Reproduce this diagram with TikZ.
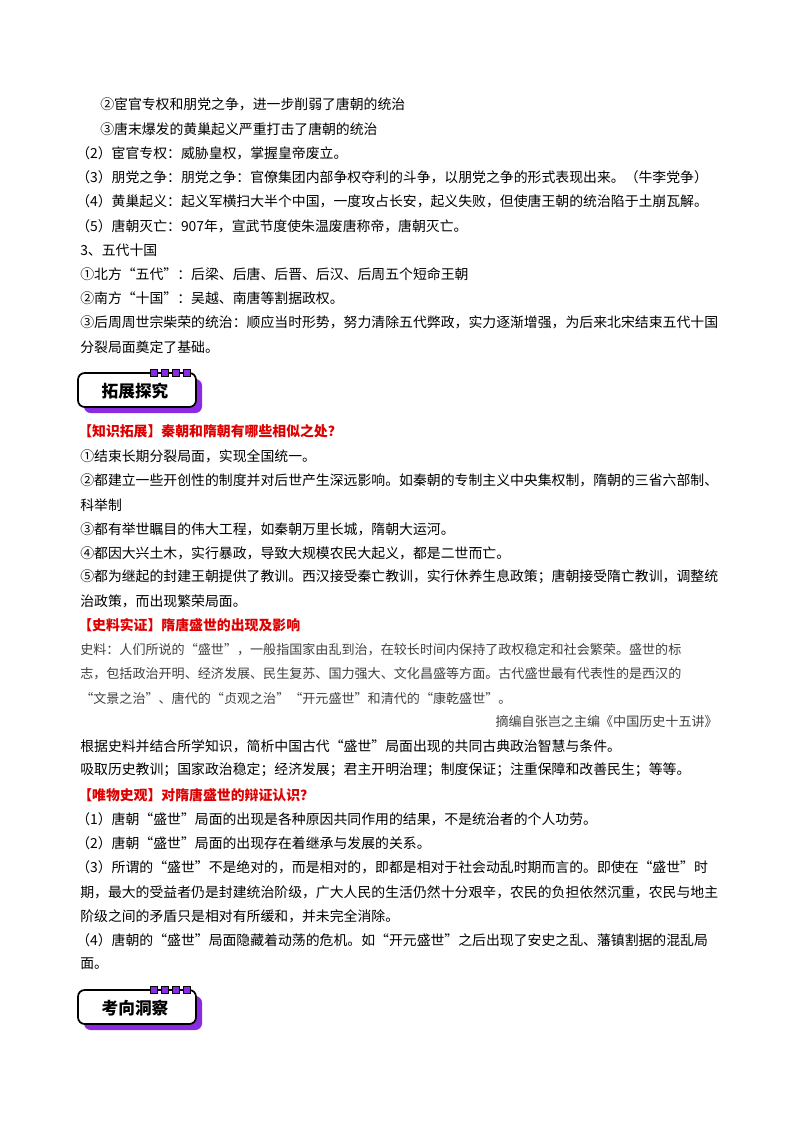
\documentclass[tikz,border=0pt]{standalone}
\usepackage{fontspec}
\newfontfamily\cjk{Noto Sans CJK SC}
\definecolor{hred}{RGB}{222,0,0}
\definecolor{purp}{RGB}{138,43,226}
\begin{document}
\begin{tikzpicture}[x=0.75pt,y=-0.75pt,
  t/.style={anchor=west,inner sep=0pt,font=\cjk\fontsize{10.4pt}{12pt}\selectfont},
  h/.style={t,text=hred,font=\cjk\bfseries\fontsize{10.4pt}{12pt}\selectfont},
  s/.style={t,text=black!75,font=\cjk\fontsize{9.8pt}{12pt}\selectfont},
  badge/.style={draw,line width=1.3pt,rounded corners=5pt,fill=white,minimum width=112\pgflinewidth,inner sep=0pt,font=\cjk\bfseries\fontsize{12pt}{14pt}\selectfont}]
\useasboundingbox (0,0) rectangle (800,1132);
\fill[white] (0,0) rectangle (800,1132);
\newcommand\Ln[4][t]{\node[#1] (#2) at #3 {#4};}
\newcommand\Badge[3]{%
  \fill[purp,rounded corners=5pt] (#1+6,#2+6) rectangle (#1+124,#2+40);
  \draw[line width=1.3pt,rounded corners=5pt,fill=white] (#1,#2) rectangle (#1+118,#2+34);
  \foreach \i in {0,1,2,3}{\filldraw[fill=purp,draw=black,line width=0.6pt] (#1+72+\i*11,#2-4) rectangle (#1+79+\i*11,#2+3);}
  \node[font=\cjk\bfseries\fontsize{12.5pt}{14pt}\selectfont] (#3) at (#1+57,#2+18) {#3};}
\Ln{a1}{(100,104)}{②宦官专权和朋党之争，进一步削弱了唐朝的统治}
\Ln{a2}{(100,129)}{③唐末爆发的黄巢起义严重打击了唐朝的统治}
\Ln{a3}{(76,153)}{（2）宦官专权：威胁皇权，掌握皇帝废立。}
\Ln{a4}{(76,177)}{（3）朋党之争：朋党之争：官僚集团内部争权夺利的斗争，以朋党之争的形式表现出来。（牛李党争）}
\Ln{a5}{(76,201)}{（4）黄巢起义：起义军横扫大半个中国，一度攻占长安，起义失败，但使唐王朝的统治陷于土崩瓦解。}
\Ln{a6}{(76,226)}{（5）唐朝灭亡：907年，宣武节度使朱温废唐称帝，唐朝灭亡。}
\Ln{a7}{(80,250)}{3、五代十国}
\Ln{a8}{(80,274)}{①北方“五代”：后梁、后唐、后晋、后汉、后周五个短命王朝}
\Ln{a9}{(80,298)}{②南方“十国”：吴越、南唐等割据政权。}
\Ln{a10}{(80,322)}{③后周周世宗柴荣的统治：顺应当时形势，努力清除五代弊政，实力逐渐增强，为后来北宋结束五代十国}
\Ln{a11}{(80,347)}{分裂局面奠定了基础。}
\Badge{78}{373}{拓展探究}
\Ln[h]{b1}{(78,431)}{【知识拓展】秦朝和隋朝有哪些相似之处？}
\Ln{b2}{(80,456)}{①结束长期分裂局面，实现全国统一。}
\Ln{b3}{(80,480)}{②都建立一些开创性的制度并对后世产生深远影响。如秦朝的专制主义中央集权制，隋朝的三省六部制、}
\Ln{b4}{(80,505)}{科举制}
\Ln{b5}{(80,529)}{③都有举世瞩目的伟大工程，如秦朝万里长城，隋朝大运河。}
\Ln{b6}{(80,553)}{④都因大兴土木，实行暴政，导致大规模农民大起义，都是二世而亡。}
\Ln{b7}{(80,577)}{⑤都为继起的封建王朝提供了教训。西汉接受秦亡教训，实行休养生息政策；唐朝接受隋亡教训，调整统}
\Ln{b8}{(80,601)}{治政策，而出现繁荣局面。}
\Ln[h]{c1}{(78,625)}{【史料实证】隋唐盛世的出现及影响}
\Ln[s]{c2}{(80,650)}{史料：人们所说的“盛世”，一般指国家由乱到治，在较长时间内保持了政权稳定和社会繁荣。盛世的标}
\Ln[s]{c3}{(80,674)}{志，包括政治开明、经济发展、民生复苏、国力强大、文化昌盛等方面。古代盛世最有代表性的是西汉的}
\Ln[s]{c4}{(80,698)}{“文景之治”、唐代的“贞观之治”“开元盛世”和清代的“康乾盛世”。}
\node[s,anchor=east] (c5) at (718,722) {摘编自张岂之主编《中国历史十五讲》};
\Ln{c6}{(80,746)}{根据史料并结合所学知识，简析中国古代“盛世”局面出现的共同古典政治智慧与条件。}
\Ln{c7}{(80,770)}{吸取历史教训；国家政治稳定；经济发展；君主开明治理；制度保证；注重保障和改善民生；等等。}
\Ln[h]{d1}{(78,795)}{【唯物史观】对隋唐盛世的辩证认识？}
\Ln{d2}{(76,819)}{（1）唐朝“盛世”局面的出现是各种原因共同作用的结果，不是统治者的个人功劳。}
\Ln{d3}{(76,843)}{（2）唐朝“盛世”局面的出现存在着继承与发展的关系。}
\Ln{d4}{(76,867)}{（3）所谓的“盛世”不是绝对的，而是相对的，即都是相对于社会动乱时期而言的。即使在“盛世”时}
\Ln{d5}{(80,892)}{期，最大的受益者仍是封建统治阶级，广大人民的生活仍然十分艰辛，农民的负担依然沉重，农民与地主}
\Ln{d6}{(80,916)}{阶级之间的矛盾只是相对有所缓和，并未完全消除。}
\Ln{d7}{(76,940)}{（4）唐朝的“盛世”局面隐藏着动荡的危机。如“开元盛世”之后出现了安史之乱、藩镇割据的混乱局}
\Ln{d8}{(80,964)}{面。}
\Badge{78}{990}{考向洞察}
\end{tikzpicture}
\end{document}
